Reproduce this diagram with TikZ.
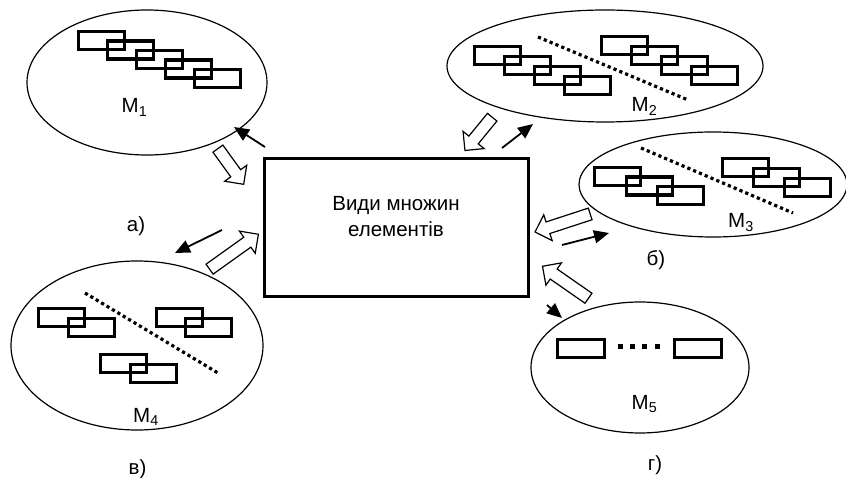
\documentclass[tikz,border=0pt]{standalone}
\usepackage{fontspec}
\setmainfont{Liberation Sans}
\usetikzlibrary{shapes.geometric,shapes.arrows,arrows.meta}

\begin{document}
\begin{tikzpicture}[x=1pt,y=-1pt,
    set/.style={draw,ellipse,line width=1.2pt,inner sep=0pt},
    link/.style={line width=3.2pt},
    cut/.style={line width=3.2pt,dash pattern=on 3.2pt off 3.1pt},
    push/.style={line width=1.8pt,-{Triangle[length=15pt,width=13pt]}},
    hollow/.style={single arrow,draw,fill=white,line width=1.2pt,inner xsep=0pt,inner ysep=5.5pt,
      single arrow head extend=7.5pt,sloped,allow upside down,midway},
    lbl/.style={font=\fontsize{20.5}{24}\selectfont,anchor=base}]
  \useasboundingbox (0,0) rectangle (846,478);

  % central box
  \node[draw,line width=3pt,minimum width=264pt,minimum height=138pt] (box) at (396.5,227.5) {};
  \node[font=\fontsize{20.5}{26}\selectfont,align=center] (title) at (396,217) {Види множин\\елементів};

  % the five sets
  \node[set,minimum width=240pt,minimum height=145pt] (m1) at (147,82.5) {};
  \node[set,minimum width=316pt,minimum height=112pt] (m2) at (605,66) {};
  \node[set,minimum width=268pt,minimum height=105pt] (m3) at (713,184.5) {};
  \node[set,minimum width=252pt,minimum height=169pt] (m4) at (137,345.5) {};
  \node[set,minimum width=218pt,minimum height=131pt] (m5) at (640,367.5) {};

  % chains of linked elements: corner / links / step
  \foreach \px/\py/\n/\sx/\sy in {77/30/5/29/9.5, 473/45/4/30/10, 600/35/4/30/10,
      593/166/3/31.5/9.5, 721/157/3/31/10, 37/307/2/30/10, 155/307/2/29/10, 99/353/2/30/10}
    \foreach \k in {1,...,\n}
      \draw[link] ({\px+1.6+\sx*(\k-1)},{\py+1.6+\sy*(\k-1)}) rectangle ++(46,18);
  \draw[link] (557.6,339.6) rectangle ++(47,18);
  \draw[link] (674.6,339.6) rectangle ++(47,18);

  % separators
  \draw[cut] (538,37) -- (688,100);
  \draw[cut] (641,148) -- (793,213);
  \draw[cut] (85,293) -- (218,373);
  \draw[line width=5pt,dash pattern=on 5pt off 7.4pt] (617.5,346) -- (660,346);

  \node[lbl] (l1) at (134.5,113) {M\textsubscript{1}};
  \node[lbl] (l2) at (644.5,112) {M\textsubscript{2}};
  \node[lbl] (l3) at (741,228) {M\textsubscript{3}};
  \node[lbl] (l4) at (146,422) {M\textsubscript{4}};
  \node[lbl] (l5) at (644.5,409) {M\textsubscript{5}};

  \node[lbl] (ca) at (136,232) {а)};
  \node[lbl] (cb) at (656,266) {б)};
  \node[lbl] (cv) at (137.5,474) {в)};
  \node[lbl] (cg) at (655,470) {г)};

  % arrow ends
  \coordinate (t1) at (216,146); \coordinate (h1) at (242,182);
  \coordinate (t2) at (494,115); \coordinate (h2) at (467,148);
  \coordinate (t3) at (593,213); \coordinate (h3) at (538,231);
  \coordinate (t4) at (207,271); \coordinate (h4) at (256,236);
  \coordinate (t5) at (591,300); \coordinate (h5) at (545,268);
  \coordinate (s1) at (265,147); \coordinate (e1) at (234,127);
  \coordinate (s2) at (502,148); \coordinate (e2) at (533,124);
  \coordinate (s3) at (562,245); \coordinate (e3) at (609,233);
  \coordinate (s4) at (222,230); \coordinate (e4) at (175,253);
  \coordinate (s5) at (547,305); \coordinate (e5) at (562,318);

  \path (t1) -- (h1) node[hollow,minimum height=44pt] (a1) {};
  \path (t2) -- (h2) node[hollow,minimum height=43pt] (a2) {};
  \path (t3) -- (h3) node[hollow,minimum height=58pt] (a3) {};
  \path (t4) -- (h4) node[hollow,minimum height=60pt] (a4) {};
  \path (t5) -- (h5) node[hollow,minimum height=56pt] (a5) {};

  \foreach \i in {1,...,5}
    \draw[push] (s\i) -- (e\i);
\end{tikzpicture}
\end{document}
